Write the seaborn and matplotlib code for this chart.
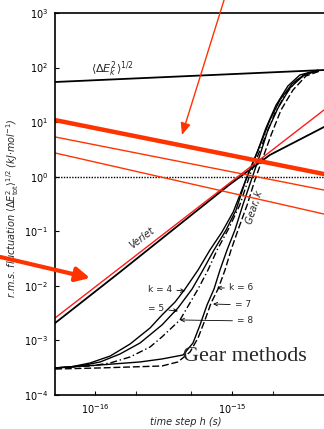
import numpy as np
import pandas as pd
import matplotlib
matplotlib.use("Agg")
import matplotlib.pyplot as plt
import seaborn as sns

# axis range
x_lim = [5.1e-17, 4.7e-15]
y_lim = [1e-4, 1e3]

# <dEk^2>^1/2 line
ek_x = [5.1e-17, 4.7e-15]
ek_y = [54.4, 90.2]

# red overlay lines (decreasing)
red_x = [5.1e-17, 4.7e-15]
red_thick_y = [10.9, 1.12]
red_thin1_y = [5.35, 0.57]
red_thin2_y = [2.72, 0.207]

# Verlet
verlet_red_x = [5.1e-17, 4.7e-15]
verlet_red_y = [2.58e-3, 16.7]
verlet_x = [5.1e-17, 1.52e-16, 4.94e-16, 9.51e-16, 1.89e-15, 4.7e-15]
verlet_y = [2.08e-3, 1.79e-2, 0.190, 0.705, 2.50, 8.15]

# Gear methods
k4_x = [5.1e-17, 6.6e-17, 9.2e-17, 1.29e-16, 1.80e-16, 2.52e-16, 3.08e-16, 3.84e-16,
        4.54e-16, 5.65e-16, 6.90e-16, 8.45e-16, 1.02e-15, 1.18e-15, 1.35e-15, 1.55e-15,
        1.77e-15, 2.10e-15, 2.56e-15, 3.13e-15, 4.03e-15]
k4_y = [3.13e-4, 3.26e-4, 3.86e-4, 5.18e-4, 8.59e-4, 1.69e-3, 2.92e-3, 5.06e-3,
        8.75e-3, 1.95e-2, 4.54e-2, 9.70e-2, 0.225, 0.570, 1.33, 3.09,
        7.81, 20.6, 45.9, 73.1, 86.5]

k5_x = [5.1e-17, 7.8e-17, 1.09e-16, 1.52e-16, 2.13e-16, 3.08e-16, 4.03e-16, 5.11e-16,
        6.14e-16, 7.39e-16, 9.04e-16, 1.07e-15, 1.26e-15, 1.45e-15, 1.66e-15, 1.89e-15,
        2.24e-15, 2.74e-15, 3.41e-15, 4.25e-15]
k5_y = [3.13e-4, 3.40e-4, 4.03e-4, 5.64e-4, 8.97e-4, 1.92e-3, 3.93e-3, 8.75e-3,
        1.95e-2, 4.54e-2, 0.105, 0.245, 0.871, 2.02, 4.71, 10.9,
        25.5, 50.0, 76.2, 86.5]

k8_x = [5.1e-17, 9.2e-17, 1.29e-16, 1.80e-16, 2.52e-16, 3.08e-16, 4.17e-16, 5.65e-16,
        6.68e-16, 7.78e-16, 9.51e-16, 1.14e-15, 1.35e-15, 1.55e-15, 1.77e-15, 2.06e-15,
        2.44e-15, 2.98e-15, 3.71e-15]
k8_y = [3.13e-4, 3.40e-4, 3.86e-4, 4.97e-4, 7.57e-4, 1.16e-3, 2.37e-3, 8.75e-3,
        1.95e-2, 4.54e-2, 0.115, 0.303, 1.07, 2.50, 5.81, 14.7,
        31.5, 59.2, 82.9]

k6_x = [5.1e-17, 1.09e-16, 2.13e-16, 3.08e-16, 4.39e-16, 5.19e-16, 5.84e-16, 6.57e-16,
        7.39e-16, 8.17e-16, 9.20e-16, 1.05e-15, 1.20e-15, 1.40e-15, 1.60e-15, 1.83e-15,
        2.17e-15, 2.65e-15, 3.30e-15, 4.25e-15]
k6_y = [3.13e-4, 3.55e-4, 4.03e-4, 4.57e-4, 5.41e-4, 8.97e-4, 1.92e-3, 4.46e-3,
        8.75e-3, 1.95e-2, 4.54e-2, 0.105, 0.303, 0.946, 2.50, 7.18,
        18.2, 42.3, 70.1, 90.2]

k7_x = [5.1e-17, 1.09e-16, 3.08e-16, 4.03e-16, 4.94e-16, 5.65e-16, 6.35e-16, 7.03e-16,
        7.91e-16, 8.89e-16, 9.84e-16, 1.12e-15, 1.29e-15, 1.47e-15, 1.68e-15, 1.93e-15,
        2.28e-15, 2.79e-15, 3.47e-15, 4.39e-15]
k7_y = [2.99e-4, 3.13e-4, 3.40e-4, 4.03e-4, 6.14e-4, 1.11e-3, 2.37e-3, 4.85e-3,
        8.75e-3, 1.95e-2, 4.54e-2, 0.115, 0.303, 0.871, 2.20, 5.81,
        16.7, 38.8, 70.1, 86.5]

sns.set_theme(style="ticks")
plt.rcParams["font.family"] = ["DejaVu Sans"]

fig = plt.figure(figsize=(3.24, 4.29), dpi=100)
ax = fig.add_axes([0.170, 0.0793, 0.830, 0.8904])

def line(x, y, **kw):
    sns.lineplot(x=x, y=y, ax=ax, sort=False, estimator=None, legend=False, **kw)

line(ek_x, ek_y, color="black", lw=1.3)
line(verlet_x, verlet_y, color="black", lw=1.3)
line(k4_x, k4_y, color="black", lw=1.0)
line(k5_x, k5_y, color="black", lw=1.0)
line(k8_x, k8_y, color="black", lw=1.0, linestyle=(0, (5, 2, 1, 2)))
line(k6_x, k6_y, color="black", lw=1.0)
line(k7_x, k7_y, color="black", lw=1.0, linestyle=(0, (5, 2)))

ax.axhline(1.0, color="black", lw=1.0, linestyle=(0, (1, 1)))

line(red_x, red_thick_y, color="#ff3300", lw=3.2)
line(red_x, red_thin1_y, color="#ff3300", lw=1.0)
line(red_x, red_thin2_y, color="#ff3300", lw=1.0)
line(verlet_red_x, verlet_red_y, color="#ff1a1a", lw=1.0)

ax.set_xscale("log")
ax.set_yscale("log")
ax.set_xlim(x_lim)
ax.set_ylim(y_lim)

ax.set_yticks([1e-4, 1e-3, 1e-2, 1e-1, 1e0, 1e1, 1e2, 1e3])
ax.set_yticklabels([r"$10^{-4}$", r"$10^{-3}$", r"$10^{-2}$", r"$10^{-1}$",
                    r"$10^{0}$", r"$10^{1}$", r"$10^{2}$", r"$10^{3}$"])
ax.yaxis.set_minor_locator(matplotlib.ticker.NullLocator())
ax.set_xticks([1e-16, 1e-15])
ax.set_xticklabels([r"$10^{-16}$", r"$10^{-15}$"])
ax.set_xticks([2e-16, 5e-16, 2e-15], minor=True)
ax.tick_params(axis="both", which="major", direction="in", length=3, width=0.8,
               labelsize=7, pad=5, colors="black")
ax.tick_params(axis="x", which="minor", direction="in", length=3, width=0.8)

for s in ["left", "bottom", "top"]:
    ax.spines[s].set_color("black")
    ax.spines[s].set_linewidth(1.2)
ax.spines["right"].set_visible(False)

ax.set_ylabel(r"r.m.s. fluctuation $\langle\Delta E^2_{\rm tot}\rangle^{1/2}$ (kJ$\cdot$mol$^{-1}$)",
              fontsize=7, style="italic")
ax.yaxis.set_label_coords(-0.125, 0.49)
ax.set_xlabel("time step h (s)", fontsize=7, style="italic")
ax.xaxis.set_label_coords(0.487, -0.058)

ax.text(1.33e-16, 92, r"$\langle \Delta E_k^2 \rangle^{1/2}$", fontsize=8,
        ha="center", va="center")
ax.text(2.2e-16, 7.5e-2, "Verlet", fontsize=7, style="italic", rotation=37,
        ha="center", va="center", rotation_mode="anchor")
ax.text(1.47e-15, 0.27, "Gear, k", fontsize=7, style="italic", rotation=72,
        ha="center", va="center", rotation_mode="anchor")

arr = dict(arrowstyle="->", lw=0.6, color="black", shrinkA=1, shrinkB=0)
ax.annotate("k = 4", xy=(4.54e-16, 8.05e-3), xytext=(2.44e-16, 8.75e-3), fontsize=6.5,
            ha="left", va="center", arrowprops=arr)
ax.annotate("= 5", xy=(4.03e-16, 3.46e-3), xytext=(2.44e-16, 3.77e-3), fontsize=6.5,
            ha="left", va="center", arrowprops=arr)
ax.annotate("k = 6", xy=(7.78e-16, 9.14e-3), xytext=(9.51e-16, 9.14e-3), fontsize=6.5,
            ha="left", va="center", arrowprops=arr)
ax.annotate("= 7", xy=(7.27e-16, 4.65e-3), xytext=(1.05e-15, 4.46e-3), fontsize=6.5,
            ha="left", va="center", arrowprops=arr)
ax.annotate("= 8", xy=(4.17e-16, 2.37e-3), xytext=(1.09e-15, 2.27e-3), fontsize=6.5,
            ha="left", va="center", arrowprops=arr)

ax.text(0.476, 0.10, "Gear methods", transform=ax.transAxes, fontsize=16,
        family="Liberation Serif", ha="left", va="center")

# red arrows
ax.annotate("", xy=(4.31e-16, 5.81), xytext=(8.75e-16, 1730), annotation_clip=False,
            arrowprops=dict(arrowstyle="-|>,head_length=0.6,head_width=0.25",
                            color="#ff3300", lw=1.0, shrinkA=0, shrinkB=0))
ax.annotate("", xy=(9.2e-17, 1.39e-2), xytext=(2.03e-17, 3.38e-2), annotation_clip=False,
            arrowprops=dict(arrowstyle="-|>,head_length=0.7,head_width=0.35",
                            color="#ff3300", lw=3.0, shrinkA=0, shrinkB=0))

fig.savefig("out.png", dpi=100)
